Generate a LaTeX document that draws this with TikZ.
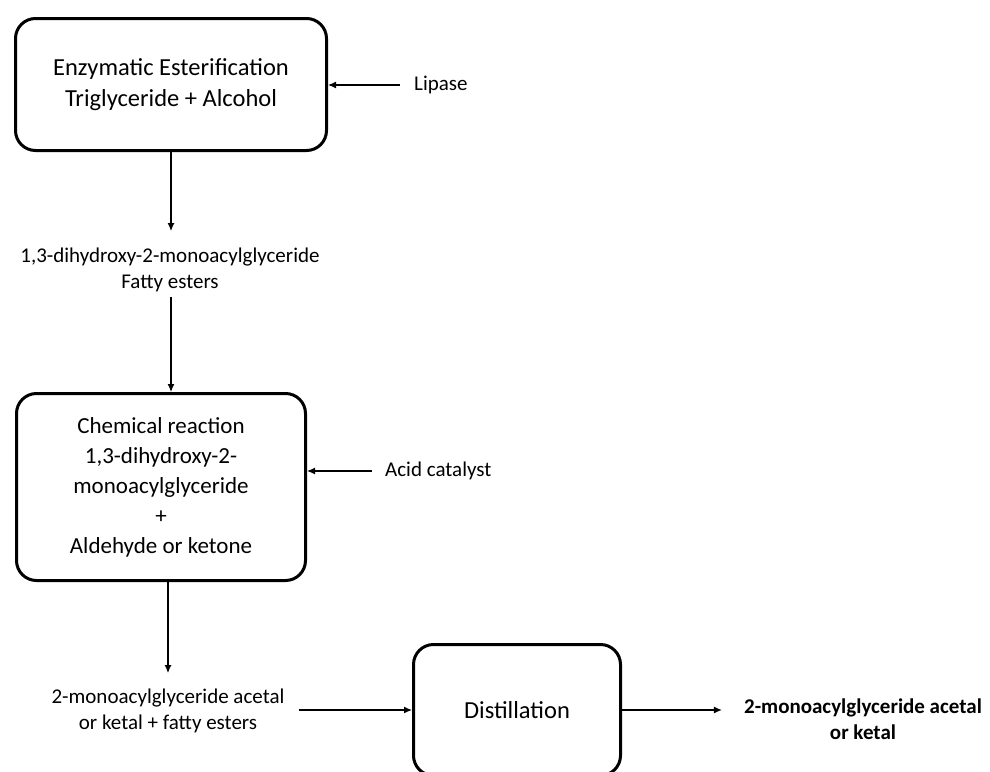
\documentclass[tikz,border=0pt]{standalone}
\usepackage{fontspec}
\setmainfont{Carlito}
\usetikzlibrary{arrows.meta,positioning}

\tikzset{
  procbox/.style={draw, line width=3pt, rounded corners=20pt, align=center,
    font=\fontsize{24.5}{31}\selectfont},
  lbl/.style={align=center, inner sep=0pt, font=\fontsize{21}{25.5}\selectfont},
  flow/.style={->, line width=1.2pt}
}

\begin{document}
\begin{tikzpicture}[>={Latex[length=8pt,width=7pt]}, x=1pt, y=-1pt]
  \clip (0,0) rectangle (990,771);

  % Boxes
  \node[procbox, minimum width=311pt, minimum height=132pt] (esterif) at (171,84.5)
    {Enzymatic Esterification\\Triglyceride + Alcohol};
  \node[procbox, minimum width=289pt, minimum height=187pt,
    font=\fontsize{23}{30}\selectfont] (chemreact) at (161,487)
    {Chemical reaction\\1,3-dihydroxy-2-\\monoacylglyceride\\+\\Aldehyde or ketone};
  \node[procbox, minimum width=207pt, minimum height=131pt] (distill) at (517,710)
    {Distillation};

  % Labels
  \node[lbl, anchor=west] (lipase) at (414,85) {Lipase};
  \node[lbl, anchor=west] (acid) at (385,471) {Acid catalyst};
  \node[lbl] (monoester) at (170,270) {1,3-dihydroxy-2-monoacylglyceride\\Fatty esters};
  \node[lbl] (acetalmix) at (168,711) {2-monoacylglyceride acetal\\or ketal + fatty esters};
  \node[lbl, font=\fontsize{21}{25.5}\selectfont\bfseries] (product) at (863,719)
    {2-monoacylglyceride acetal\\or ketal};

  % Arrows
  \draw[flow] ([xshift=-14pt]lipase.west) -- (lipase.west -| esterif.east);
  \draw[flow] ([xshift=-13pt]acid.west) -- (acid.west -| chemreact.east);
  \draw[flow, shorten >=17pt] (esterif.south) -- (esterif.south |- monoester.north);
  \draw[flow, shorten <=5pt] (esterif.south |- monoester.south) -- (esterif.south |- chemreact.north);
  \draw[flow, shorten >=16pt] (acetalmix.north |- chemreact.south) -- (acetalmix.north);
  \draw[flow, shorten <=14pt] (acetalmix.east |- distill.west) -- (distill.west);
  \draw[flow, shorten >=22pt] (distill.east) -- (distill.east -| product.west);
\end{tikzpicture}
\end{document}
